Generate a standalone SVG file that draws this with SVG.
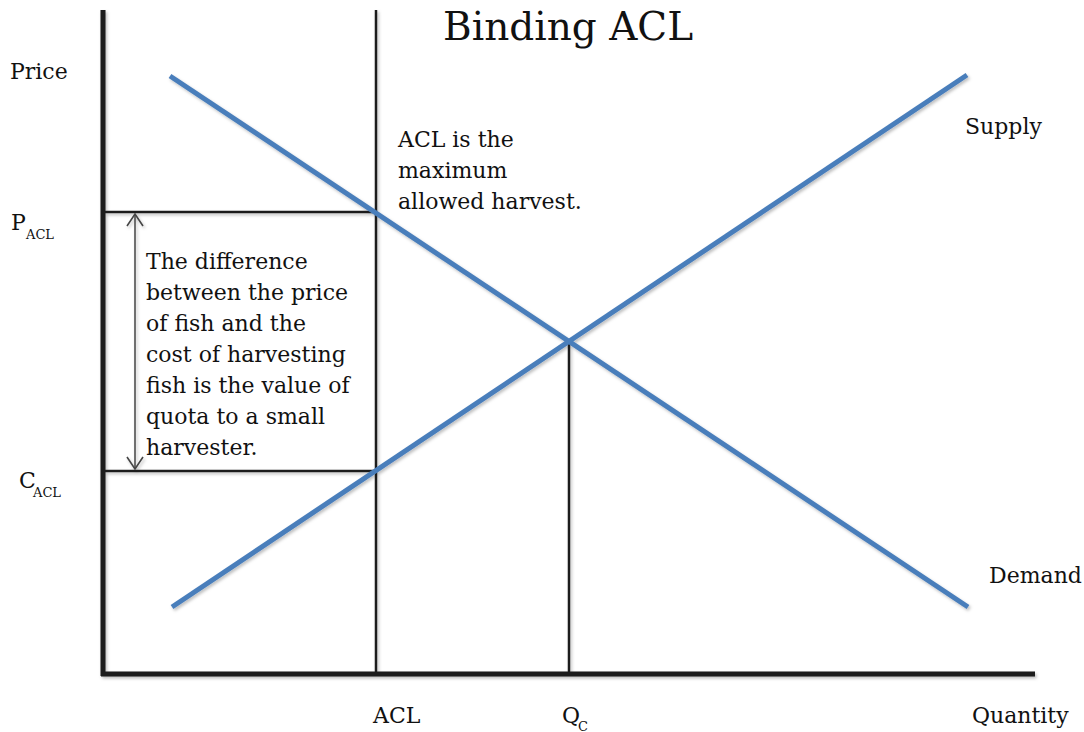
<svg xmlns="http://www.w3.org/2000/svg" width="1084" height="732" viewBox="0 0 1084 732">
<defs>
<style>
text{font-family:"DejaVu Serif","Liberation Serif",serif;fill:#111;}
.lbl{font-size:22px;}
.sub{font-size:13px;}
.title{font-size:39px;}
.axis{stroke:#1c1c1c;stroke-width:5;fill:none;}
.guide{stroke:#1c1c1c;stroke-width:2.5;fill:none;}
.curve{stroke:#4a7ebb;stroke-width:5;fill:none;}
.arrow{stroke:#444;stroke-width:1.5;fill:none;}
</style>
<filter id="sh" x="-5%" y="-5%" width="110%" height="110%">
<feDropShadow dx="1.5" dy="2" stdDeviation="1.5" flood-color="#000" flood-opacity="0.25"/>
</filter>
<marker id="chev" viewBox="0 0 14 18" refX="13" refY="9" markerWidth="14" markerHeight="18" markerUnits="userSpaceOnUse" orient="auto-start-reverse">
<path d="M1,1 L13,9 L1,17" fill="none" stroke="#444" stroke-width="1.6"/>
</marker>
</defs>
<rect width="1084" height="732" fill="#fff"/>
<g id="connectors" filter="url(#sh)">
<line class="guide" x1="103" y1="212" x2="376" y2="212"/>
<line class="guide" x1="103" y1="471" x2="376" y2="471"/>
<line class="guide" x1="376" y1="10" x2="376" y2="674"/>
<line class="guide" x1="569" y1="342" x2="569" y2="674"/>
<line class="curve" x1="170" y1="76" x2="968" y2="607"/>
<line class="curve" x1="172" y1="607" x2="967" y2="75"/>
<line class="axis" x1="103" y1="10" x2="103" y2="676"/>
<line class="axis" x1="101" y1="674" x2="1035" y2="674"/>
<line class="arrow" x1="135" y1="214" x2="135" y2="469" marker-start="url(#chev)" marker-end="url(#chev)"/>
</g>
<g id="title"><text class="title" x="443" y="40">Binding ACL</text></g>
<g id="price"><text class="lbl" x="10" y="79">Price</text></g>
<g id="pacl"><text class="lbl" x="11" y="230">P</text><text class="sub" x="26" y="239">ACL</text></g>
<g id="cacl"><text class="lbl" x="19" y="488">C</text><text class="sub" x="33" y="497">ACL</text></g>
<g id="acl-note">
<text class="lbl" x="398" y="147">ACL is the</text>
<text class="lbl" x="398" y="178">maximum</text>
<text class="lbl" x="398" y="209">allowed harvest.</text>
</g>
<g id="diff-note">
<text class="lbl" x="146" y="269">The difference</text>
<text class="lbl" x="146" y="300">between the price</text>
<text class="lbl" x="146" y="331">of fish and the</text>
<text class="lbl" x="146" y="362">cost of harvesting</text>
<text class="lbl" x="146" y="393">fish is the value of</text>
<text class="lbl" x="146" y="424">quota to a small</text>
<text class="lbl" x="146" y="455">harvester.</text>
</g>
<g id="supply"><text class="lbl" x="965" y="134">Supply</text></g>
<g id="demand"><text class="lbl" x="989" y="583">Demand</text></g>
<g id="quantity"><text class="lbl" x="972" y="723">Quantity</text></g>
<g id="acl-x"><text class="lbl" x="373" y="723">ACL</text></g>
<g id="qc"><text class="lbl" x="562" y="723">Q</text><text class="sub" x="578" y="731">C</text></g>
</svg>
